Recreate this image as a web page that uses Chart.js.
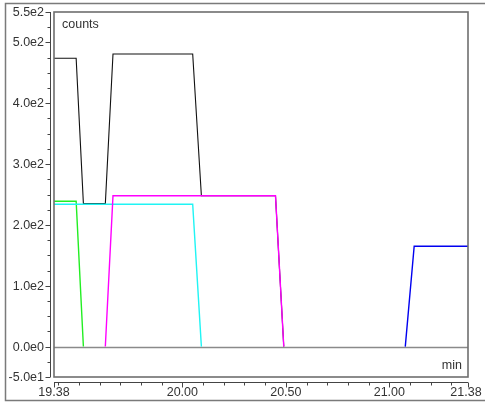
<!DOCTYPE html>
<html>
<head>
<meta charset="UTF-8">
<title>counts vs min</title>
<script src="https://cdn.jsdelivr.net/npm/chart.js"></script>
<style>
  html, body { margin: 0; padding: 0; background: #fff; }
  #wrap { width: 485px; height: 406px; }
</style>
</head>
<body>
<div id="wrap"><canvas id="chart" width="485" height="406"></canvas></div>
<script>
// data (x = min, y = counts)
const totalX   = [19.38, 19.487, 19.522, 19.628, 19.665, 20.05, 20.092, 20.45, 20.49];
const totalY   = [474, 474, 235, 235, 481, 481, 248, 248, 0];
const greenX   = [19.38, 19.487, 19.522];
const greenY   = [239, 239, 0];
const cyanX    = [19.38, 20.05, 20.092];
const cyanY    = [234, 234, 0];
const magentaX = [19.628, 19.665, 20.45, 20.49];
const magentaY = [0, 248, 248, 0];
const blueX    = [21.077, 21.12, 21.38];
const blueY    = [0, 165, 165];

// axis ticks
const yTickValues = [-50, 0, 100, 200, 300, 400, 500, 550];
const yTickLabels = ['-5.0e1', '0.0e0', '1.0e2', '2.0e2', '3.0e2', '4.0e2', '5.0e2', '5.5e2'];
const xTickValues = [19.38, 20.00, 20.50, 21.00, 21.38];
const xTickLabels = ['19.38', '20.00', '20.50', '21.00', '21.38'];

function pts(xs, ys) {
  return xs.map((x, i) => ({ x: x, y: ys[i] }));
}

const FONT = '12.5px "Liberation Sans", Arial, sans-serif';

const frame = {
  id: 'frame',
  beforeDatasetsDraw(chart) {
    const ctx = chart.ctx;
    const a = chart.chartArea;
    const xs = chart.scales.x, ys = chart.scales.y;
    ctx.save();

    // outer frame
    ctx.strokeStyle = '#7a7a7a';
    ctx.lineWidth = 1.5;
    ctx.strokeRect(5.5, 3.5, chart.width + 20, 397);

    // zero line
    const y0 = Math.round(ys.getPixelForValue(0)) + 0.5;
    ctx.strokeStyle = '#8a8a8a';
    ctx.lineWidth = 1.5;
    ctx.beginPath();
    ctx.moveTo(a.left, y0);
    ctx.lineTo(a.right, y0);
    ctx.stroke();

    // y axis (offset left of the box)
    const ax = 50.5;
    ctx.strokeStyle = '#444';
    ctx.lineWidth = 1;
    ctx.beginPath();
    ctx.moveTo(ax, a.top);
    ctx.lineTo(ax, a.bottom);
    for (let v = -50; v <= 550; v += 25) {
      const py = Math.round(ys.getPixelForValue(v)) + 0.5;
      const len = yTickValues.includes(v) ? 5 : 3;
      ctx.moveTo(ax - len, py);
      ctx.lineTo(ax, py);
    }
    ctx.stroke();

    // x axis (offset below the box)
    const ay = a.bottom + 5.5;
    ctx.beginPath();
    ctx.moveTo(a.left, ay);
    ctx.lineTo(a.right, ay);
    for (let i = 0; i <= 20; i++) {
      const v = 19.4 + i * 0.1;
      if (v > 21.38) break;
      const px = Math.round(xs.getPixelForValue(v)) + 0.5;
      ctx.moveTo(px, ay);
      ctx.lineTo(px, ay + 3);
    }
    xTickValues.forEach(v => {
      const px = Math.round(xs.getPixelForValue(v)) + 0.5;
      ctx.moveTo(px, ay);
      ctx.lineTo(px, ay + 5);
    });
    ctx.stroke();

    // labels
    ctx.fillStyle = '#333';
    ctx.font = FONT;
    ctx.textAlign = 'right';
    ctx.textBaseline = 'middle';
    yTickValues.forEach((v, i) => {
      ctx.fillText(yTickLabels[i], 44, ys.getPixelForValue(v) + 0.5);
    });
    ctx.textAlign = 'center';
    xTickValues.forEach((v, i) => {
      let px = xs.getPixelForValue(v);
      if (i === xTickValues.length - 1) px -= 2;
      ctx.fillText(xTickLabels[i], px, 393);
    });

    ctx.textBaseline = 'alphabetic';
    ctx.textAlign = 'left';
    ctx.fillText('counts', 62, 28);
    ctx.textAlign = 'right';
    ctx.fillText('min', 462, 369);
    ctx.restore();
  },
  afterDatasetsDraw(chart) {
    const ctx = chart.ctx;
    const a = chart.chartArea;
    ctx.save();
    ctx.strokeStyle = '#6e6e6e';
    ctx.lineWidth = 1.6;
    ctx.strokeRect(a.left, a.top, a.right - a.left, a.bottom - a.top);
    ctx.restore();
  }
};

function line(data, color, width) {
  return {
    data: data,
    borderColor: color,
    borderWidth: width,
    pointRadius: 0,
    showLine: true,
    fill: false,
    tension: 0
  };
}

new Chart(document.getElementById('chart').getContext('2d'), {
  type: 'scatter',
  data: {
    datasets: [
      line(pts(blueX, blueY), '#0000f0', 1.4),
      line(pts(magentaX, magentaY), '#ff00ff', 1.4),
      line(pts(cyanX, cyanY), '#20f4f4', 1.4),
      line(pts(greenX, greenY), '#22ee22', 1.4),
      line(pts(totalX, totalY), '#111111', 1.1)
    ]
  },
  options: {
    responsive: false,
    animation: false,
    devicePixelRatio: 1,
    layout: { padding: { left: 54, right: 17, top: 12, bottom: 29 } },
    plugins: { legend: { display: false }, tooltip: { enabled: false } },
    scales: {
      x: { type: 'linear', min: 19.38, max: 21.38, display: false },
      y: { type: 'linear', min: -50, max: 550, display: false }
    }
  },
  plugins: [frame]
});
</script>
</body>
</html>
